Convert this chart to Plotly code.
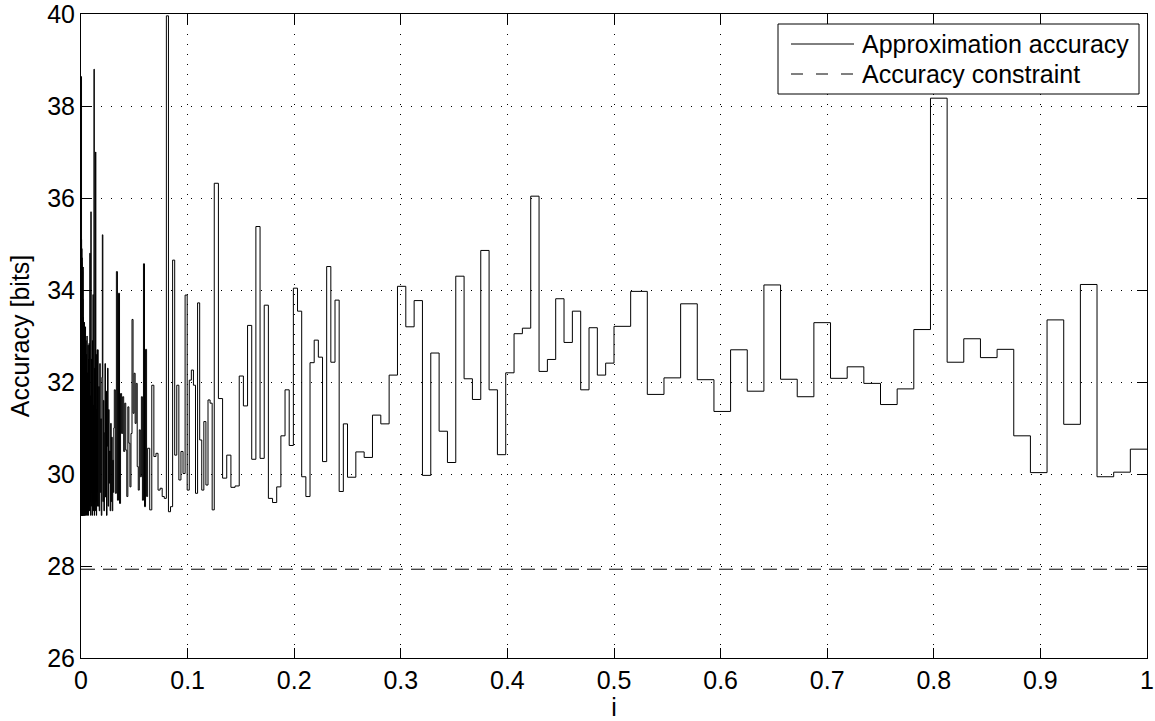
import plotly.graph_objects as go

# Step-function accuracy values, 32 equal segments per octave of i.
# octave 1: i in [0.5, 1], octave 2: [0.25, 0.5], ... octave 11: [2^-11, 2^-10]
acc_oct1 = [33.21, 33.97, 31.73, 32.09, 33.70, 32.05, 31.36, 32.70, 31.80, 34.11, 32.06, 31.68,
            33.29, 32.08, 32.33, 31.97, 31.51, 31.85, 33.14, 38.17, 32.43, 32.94, 32.53, 32.71,
            30.83, 30.03, 33.35, 31.08, 34.12, 29.94, 30.04, 30.54]
acc_oct2 = [29.93, 30.48, 30.36, 31.28, 31.09, 32.15, 34.08, 33.20, 33.77, 29.97, 32.63, 30.93,
            30.25, 34.30, 32.07, 31.62, 34.86, 31.83, 30.42, 32.20, 33.05, 33.17, 36.04, 32.23,
            32.49, 33.81, 32.86, 33.54, 31.83, 33.18, 32.15, 32.41]
acc_oct3 = [36.32, 31.64, 29.91, 30.41, 29.71, 29.74, 32.13, 31.48, 33.23, 30.32, 35.38, 30.34,
            33.67, 29.47, 29.38, 29.72, 30.83, 31.83, 30.62, 34.04, 33.54, 29.94, 29.51, 32.42,
            32.91, 32.54, 30.27, 34.51, 32.43, 33.78, 29.62, 31.09]
acc_oct4 = [30.56, 29.22, 31.93, 30.38, 30.45, 29.65, 29.69, 29.51, 29.47, 39.96, 29.18, 29.29,
            34.65, 30.41, 31.93, 29.87, 30.49, 30.01, 33.89, 29.65, 32.04, 32.26, 31.93, 29.58,
            33.72, 30.74, 29.65, 31.14, 29.76, 31.61, 31.54, 29.22]
acc_oct5 = [31.83, 29.58, 34.40, 29.43, 33.93, 29.36, 31.75, 30.88, 31.68, 30.49, 31.54, 30.52,
            29.51, 31.46, 30.67, 29.72, 30.88, 33.36, 31.32, 32.19, 31.10, 31.97, 30.16, 29.65,
            30.96, 29.94, 31.68, 29.43, 34.57, 29.29, 32.71, 29.51]
acc_oct6 = [32.7, 29.3, 31.9, 29.2, 32.4, 29.6, 31.2, 29.1, 32.1, 35.2, 29.4, 31.6, 29.2, 30.9,
            32.4, 29.5, 31.8, 29.1, 30.6, 32.3, 29.3, 31.4, 29.8, 30.5, 29.2, 31.1, 29.4, 30.8,
            29.2, 30.3, 29.6, 31.0]
acc_oct7 = [32.8, 29.2, 34.8, 29.4, 31.7, 29.1, 35.7, 29.3, 32.5, 29.6, 31.2, 29.1, 32.9, 29.4,
            33.9, 29.2, 31.5, 29.7, 38.8, 29.1, 32.3, 29.5, 30.8, 29.2, 37.0, 29.4, 32.6, 29.1,
            31.4, 29.6, 32.7, 29.3]
acc_oct8 = [32.4, 29.1, 33.2, 29.3, 31.8, 29.2, 32.9, 29.5, 31.3, 29.1, 32.6, 29.4, 30.9, 29.2,
            33.0, 29.3, 31.6, 29.1, 32.2, 29.6, 31.0, 29.2, 32.8, 29.4, 31.5, 29.1, 32.5, 29.3,
            30.7, 29.2, 32.84, 29.4]
acc_oct9 = [34.5, 29.2, 32.6, 29.1, 33.4, 29.3, 31.9, 29.1, 32.7, 29.4, 31.2, 29.2, 33.1, 29.3,
            32.0, 29.1, 32.8, 29.5, 31.6, 29.2, 33.3, 29.1, 32.2, 29.4, 31.4, 29.2, 32.9, 29.3,
            31.8, 29.1, 32.5, 29.3]
acc_oct10 = [34.7, 29.3, 33.5, 29.1, 32.8, 29.4, 34.1, 29.2, 32.3, 29.1, 33.7, 29.3, 31.9, 29.2,
             33.0, 29.1, 34.4, 29.4, 32.6, 29.2, 33.2, 29.1, 31.7, 29.3, 33.8, 29.2, 32.4, 29.1,
             33.4, 29.3, 32.1, 29.2]
acc_oct11 = [33.9, 29.2, 35.1, 29.1, 32.7, 29.4, 34.2, 29.1, 33.3, 29.2, 31.8, 29.3, 34.6, 29.1,
             32.9, 29.2, 33.6, 29.1, 32.2, 29.3, 34.9, 29.2, 33.1, 29.1, 31.9, 29.4, 33.7, 29.2,
             32.5, 29.1, 34.3, 29.3]
acc_head = 38.64          # value on [0, 2^-11]
constraint = 27.93        # accuracy constraint [bits]

series_names = ["Approximation accuracy", "Accuracy constraint"]
x_ticks = [0, 0.1, 0.2, 0.3, 0.4, 0.5, 0.6, 0.7, 0.8, 0.9, 1]
x_tick_text = ["0", "0.1", "0.2", "0.3", "0.4", "0.5", "0.6", "0.7", "0.8", "0.9", "1"]
y_ticks = [26, 28, 30, 32, 34, 36, 38, 40]

octaves = [acc_oct1, acc_oct2, acc_oct3, acc_oct4, acc_oct5, acc_oct6, acc_oct7,
           acc_oct8, acc_oct9, acc_oct10, acc_oct11]

# Build step arrays (segment starts), from x=0 upward
xs, ys = [0.0], [acc_head]
for j in range(len(octaves), 0, -1):
    vals = octaves[j - 1]
    lo, hi = 2.0 ** (-j), 2.0 ** (-(j - 1))
    n = len(vals)
    for k, v in enumerate(vals):
        xs.append(lo + k * (hi - lo) / n)
        ys.append(v)
xs.append(1.0)
ys.append(acc_oct1[-1])

FONT = "Liberation Sans, Arial, Helvetica, sans-serif"
FS = 25
W, H = 1155, 721
ML, MR, MT, MB = 81, 8, 14, 63
PW, PH = W - ML - MR, H - MT - MB


def px(xp):
    return (xp - ML) / PW


def py(yp):
    return (H - MB - yp) / PH


fig = go.Figure()
fig.add_trace(go.Scatter(x=xs, y=ys, mode="lines", line=dict(color="black", width=1, shape="hv"),
                         name=series_names[0], showlegend=False))
fig.add_trace(go.Scatter(x=[0, 1], y=[constraint, constraint], mode="lines",
                         line=dict(color="black", width=1, dash="14px,8px"),
                         name=series_names[1], showlegend=False))

axis_common = dict(showline=True, linecolor="black", linewidth=1, mirror="ticks",
                   ticks="inside", ticklen=10, tickcolor="black", tickwidth=1,
                   showgrid=True, gridcolor="black", gridwidth=1, griddash="1px,9px",
                   zeroline=False, automargin=False, ticklabeloverflow="allow",
                   tickfont=dict(family=FONT, size=FS, color="black"))

# Legend box (drawn in paper coordinates, MATLAB style)
lx0, lx1, ly0, ly1 = 778, 1139, 24, 94
row_y = [44, 74]
shapes = [dict(type="rect", xref="paper", yref="paper", x0=px(lx0), x1=px(lx1), y0=py(ly1), y1=py(ly0),
               line=dict(color="black", width=1), fillcolor="white", layer="above")]
shapes.append(dict(type="line", xref="paper", yref="paper", x0=px(791), x1=px(854),
                   y0=py(row_y[0]), y1=py(row_y[0]), line=dict(color="black", width=1), layer="above"))
shapes.append(dict(type="line", xref="paper", yref="paper", x0=px(791), x1=px(854),
                   y0=py(row_y[1]), y1=py(row_y[1]), line=dict(color="black", width=1, dash="12px,13px"),
                   layer="above"))
annotations = [dict(xref="paper", yref="paper", x=px(860), y=py(ry), text=name, showarrow=False,
                    xanchor="left", yanchor="middle", font=dict(family=FONT, size=FS, color="black"))
               for name, ry in zip(series_names, row_y)]

fig.update_layout(
    width=W, height=H,
    margin=dict(l=ML, r=MR, t=MT, b=MB, pad=0),
    paper_bgcolor="white", plot_bgcolor="white",
    font=dict(family=FONT, size=FS, color="black"),
    xaxis=dict(range=[0, 1], tickvals=x_ticks, ticktext=x_tick_text,
               title=dict(text="i", font=dict(family=FONT, size=FS), standoff=2), **axis_common),
    yaxis=dict(range=[26, 40], tickvals=y_ticks,
               title=dict(text="Accuracy [bits]", font=dict(family=FONT, size=FS), standoff=10),
               **axis_common),
    shapes=shapes,
    annotations=annotations,
    showlegend=False,
)

fig.write_html("out.html", config={"displayModeBar": False},
               post_script="document.body.style.margin='0';")
